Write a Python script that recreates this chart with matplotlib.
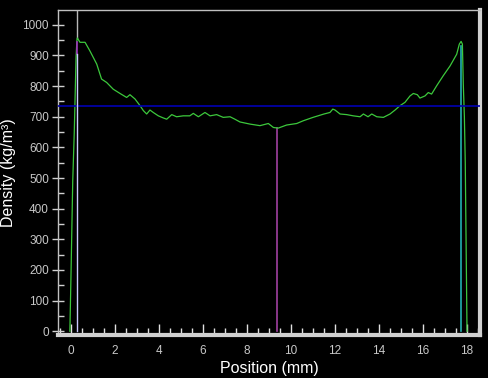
import matplotlib.pyplot as plt
from matplotlib.ticker import MultipleLocator

# density profile (mm, kg/m3)
position = [-0.05, 0.0, 0.08, 0.15, 0.23, 0.27, 0.29, 0.41, 0.64, 0.86, 1.17, 1.39, 1.62,
            1.92, 2.23, 2.53, 2.68, 2.91, 3.14, 3.29, 3.44, 3.59, 3.74, 3.97, 4.2, 4.35,
            4.58, 4.8, 5.1, 5.4, 5.56, 5.79, 6.09, 6.32, 6.62, 6.92, 7.23, 7.45, 7.68,
            8.14, 8.59, 8.97, 9.2, 9.42, 9.8, 10.26, 10.56, 11.0, 11.5, 11.77, 11.9,
            12.0, 12.23, 12.53, 12.83, 13.14, 13.29, 13.5, 13.67, 13.9, 14.2, 14.5,
            14.73, 14.95, 15.18, 15.41, 15.56, 15.74, 15.86, 16.09, 16.24, 16.39,
            16.62, 16.92, 17.23, 17.53, 17.65, 17.73, 17.79, 17.83, 17.88, 17.92, 18.0]
density = [0, 180, 490, 650, 893, 950, 957, 943, 943, 915, 872, 823, 812,
           790, 776, 763, 772, 758, 736, 720, 709, 722, 714, 703, 696, 692,
           707, 700, 703, 703, 711, 700, 714, 703, 707, 698, 700, 692, 683,
           676, 671, 678, 665, 663, 673, 678, 687, 698, 709, 714, 725,
           722, 709, 707, 703, 700, 709, 700, 709, 700, 698, 709,
           722, 736, 747, 768, 776, 772, 761, 768, 779, 774,
           801, 834, 866, 904, 937, 946, 937, 807, 700, 550, 0]

mean_density = 736
left_face = 0.26
min_pos = 9.38
min_density = 663
right_face = 17.71
right_top = 930

fig = plt.figure(figsize=(4.89, 3.78), dpi=100, facecolor='black')
ax = fig.add_axes([0.1186, 0.114, 0.8630, 0.860])
ax.set_facecolor('black')

ax.plot(position, density, color='#3cc83c', lw=0.9, zorder=3)
ax.axhline(mean_density, color='#0000b4', lw=1.2, zorder=4)
ax.plot([left_face, left_face], [957, 1049], color='#b8b8b8', lw=1.0, zorder=2)
ax.plot([left_face, left_face], [905, 945], color='#a030c0', lw=1.2, zorder=5)
ax.plot([left_face, left_face], [0, 905], color='#c8c8ff', lw=1.0, zorder=5)
ax.plot([min_pos, min_pos], [0, min_density], color='#a040a0', lw=1.2, zorder=2)
ax.plot([right_face, right_face], [0, right_top], color='#20b0b0', lw=1.2, zorder=2)

ax.set_xlim(-0.59, 18.59)
ax.set_ylim(-12, 1049)

ax.xaxis.set_minor_locator(MultipleLocator(0.5))
ax.yaxis.set_major_locator(MultipleLocator(100))
ax.yaxis.set_minor_locator(MultipleLocator(50))
ax.set_xticks(range(0, 19, 2))

ax.tick_params(axis='x', which='major', direction='in', length=8, width=1,
               color='#e0e0e0', labelcolor='#c8c8c8', labelsize=8.5, pad=7)
ax.tick_params(axis='x', which='minor', direction='in', length=5, width=1, color='#e0e0e0')
ax.tick_params(axis='y', which='major', direction='inout', length=9, width=1,
               color='#d0d0d0', labelcolor='#c8c8c8', labelsize=8.5, pad=2)
ax.tick_params(axis='y', which='minor', direction='in', length=4.5, width=1, color='#d0d0d0')

for side in ['left', 'top']:
    ax.spines[side].set_color('#c0c0c0')
    ax.spines[side].set_linewidth(1.0)
for side in ['right', 'bottom']:
    ax.spines[side].set_color('#d0d0d0')
    ax.spines[side].set_linewidth(3.0)

font = ['Liberation Sans', 'DejaVu Sans']
for lab in ax.get_xticklabels() + ax.get_yticklabels():
    lab.set_family(font)
ax.set_xlabel('Position (mm)', color='white', fontsize=11.5, family=font, labelpad=3)
ax.set_ylabel('Density (kg/m³)', color='white', fontsize=11.5, family=font, labelpad=5)

fig.savefig('out.png', dpi=100, facecolor='black')
